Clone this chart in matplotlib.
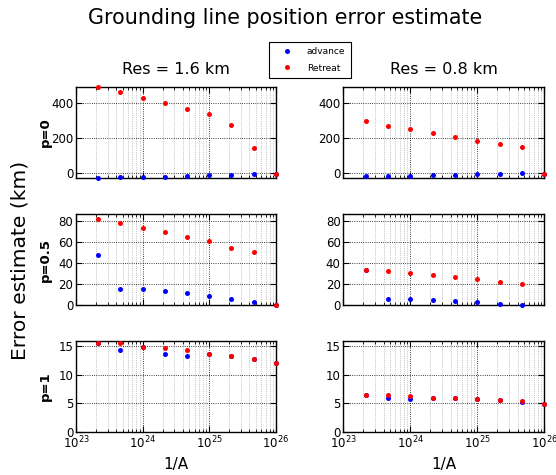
import numpy as np
import matplotlib
matplotlib.use("Agg")
import matplotlib.pyplot as plt

# x positions: 1/A values (1/3-decade steps)
inv_A = [2.15e23, 4.64e23, 1e24, 2.15e24, 4.64e24, 1e25, 2.15e25, 4.64e25, 1e26]

col_titles = ["Res = 1.6 km", "Res = 0.8 km"]
row_labels = ["p=0", "p=0.5", "p=1"]

# p=0
adv_p0_16 = [-26, -23, -21, -19, -13, -11, -8, -6, -3]
ret_p0_16 = [490, 458, 428, 398, 366, 334, 274, 145, -3]
adv_p0_08 = [-17, -15, -13, -11, -8, -6, -2, 0, -2]
ret_p0_08 = [294, 270, 249, 226, 208, 185, 166, 147, -2]
# p=0.5
adv_p05_16 = [47.1, 15.2, 15.5, 13.0, 11.1, 8.9, 6.0, 3.2, 0]
ret_p05_16 = [81.6, 78.1, 73.4, 69.2, 64.2, 60.4, 54.4, 50.0, 0]
adv_p05_08 = [33.0, 5.7, 5.4, 4.4, 3.8, 2.5, 0.9, 0.0, np.nan]
ret_p05_08 = [32.9, 31.9, 30.4, 28.5, 26.2, 24.3, 22.1, 19.9, np.nan]
# p=1
adv_p1_16 = [15.5, 14.36, 14.8, 13.6, 13.26, 13.6, 13.26, 12.7, 12.1]
ret_p1_16 = [15.46, 15.46, 14.77, 14.7, 14.3, 13.6, 13.26, 12.7, 12.1]
adv_p1_08 = [6.45, 6.0, 5.8, 5.87, 5.93, 5.76, 5.5, 5.3, 4.94]
ret_p1_08 = [6.45, 6.45, 6.2, 5.87, 5.93, 5.76, 5.58, 5.35, 4.94]

data = [
    [(adv_p0_16, ret_p0_16), (adv_p0_08, ret_p0_08)],
    [(adv_p05_16, ret_p05_16), (adv_p05_08, ret_p05_08)],
    [(adv_p1_16, ret_p1_16), (adv_p1_08, ret_p1_08)],
]
ylims = [(-25, 490), (0, 86.3), (0, 15.9)]
yticks = [[0, 200, 400], [0, 20, 40, 60, 80], [0, 5, 10, 15]]

W, H = 556, 475
fig = plt.figure(figsize=(W / 100, H / 100), dpi=100)

lefts = [76, 343.3]
widths = [200, 201]
tops = [86.7, 214, 340.7]
bottoms = [177.7, 305, 432]

handles = None
for r in range(3):
    for c in range(2):
        ax = fig.add_axes([lefts[c] / W, 1 - bottoms[r] / H, widths[c] / W,
                           (bottoms[r] - tops[r]) / H])
        adv, ret = data[r][c]
        h1, = ax.plot(inv_A, adv, 'o', color='b', ms=3.6, mew=0, clip_on=False, zorder=3)
        h2, = ax.plot(inv_A, ret, 'o', color='r', ms=3.6, mew=0, clip_on=False, zorder=4)
        handles = (h1, h2)
        ax.set_xscale('log')
        ax.set_xlim(1e23, 1e26)
        ax.set_ylim(*ylims[r])
        ax.set_yticks(yticks[r])
        ax.grid(True, which='major', ls=':', color='k', lw=0.6)
        ax.grid(True, which='minor', axis='x', ls=':', color='0.6', lw=0.5)
        ax.tick_params(which='both', direction='in', top=True, right=True,
                       labelsize=8.5, pad=2)
        ax.tick_params(which='major', length=4)
        ax.tick_params(which='minor', length=2)
        for s in ax.spines.values():
            s.set_linewidth(1.0)
        if r < 2:
            ax.tick_params(labelbottom=False)
        else:
            ax.set_xticks([1e23, 1e24, 1e25, 1e26])
            ax.set_xlabel("1/A", fontsize=11, labelpad=4)
        if r == 0:
            ax.set_title(col_titles[c], fontsize=11.5, pad=9)
        if c == 0:
            fig.text(45 / W, 1 - (tops[r] + bottoms[r]) / 2 / H, row_labels[r],
                     rotation=90, ha='center', va='center', fontsize=9.5,
                     fontweight='bold')

fig.text(285 / W, 1 - 18 / H, "Grounding line position error estimate",
         ha='center', va='center', fontsize=14.9)
fig.text(20 / W, 1 - 260 / H, "Error estimate (km)", rotation=90,
         ha='center', va='center', fontsize=14.6)

leg = fig.legend(handles, ["advance", "Retreat"], loc='upper left',
                 bbox_to_anchor=(269 / W, 1 - 42 / H), fontsize=6.5,
                 frameon=True, fancybox=False, framealpha=1, borderpad=0.6,
                 borderaxespad=0, handletextpad=0.8, handlelength=2.8,
                 labelspacing=0.8)
leg.get_frame().set_edgecolor('k')
leg.get_frame().set_linewidth(0.8)

fig.savefig("out.png", dpi=100)
